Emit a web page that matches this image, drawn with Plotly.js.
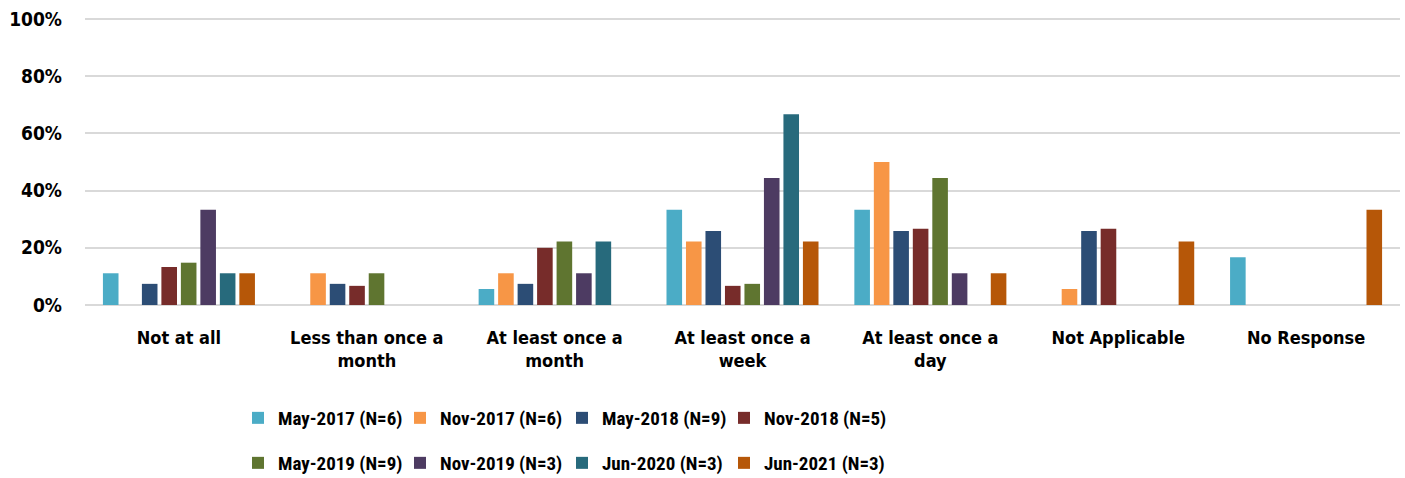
<!DOCTYPE html>
<html>
<head>
<meta charset="utf-8">
<script src="https://cdn.plot.ly/plotly-3.0.1.min.js"></script>
<style>html,body{margin:0;padding:0;background:#fff;}#chart{width:1405px;height:478px;}</style>
</head>
<body>
<div id="chart"></div>
<script>
const categories = ["Not at all", "Less than once a<br>month", "At least once a<br>month", "At least once a<br>week", "At least once a<br>day", "Not Applicable", "No Response"];
const seriesNames = ["May-2017 (N=6)", "Nov-2017 (N=6)", "May-2018 (N=9)", "Nov-2018 (N=5)", "May-2019 (N=9)", "Nov-2019 (N=3)", "Jun-2020 (N=3)", "Jun-2021 (N=3)"];
const may2017 = [11.1, 0, 5.6, 33.3, 33.3, 0, 16.7];
const nov2017 = [0, 11.1, 11.1, 22.2, 50.0, 5.6, 0];
const may2018 = [7.4, 7.4, 7.4, 25.9, 25.9, 25.9, 0];
const nov2018 = [13.3, 6.7, 20.0, 6.7, 26.7, 26.7, 0];
const may2019 = [14.8, 11.1, 22.2, 7.4, 44.4, 0, 0];
const nov2019 = [33.3, 0, 11.1, 44.4, 11.1, 0, 0];
const jun2020 = [11.1, 0, 22.2, 66.7, 0, 0, 0];
const jun2021 = [11.1, 0, 0, 22.2, 11.1, 22.2, 33.3];
const seriesValues = [may2017, nov2017, may2018, nov2018, may2019, nov2019, jun2020, jun2021];
const colors = ["#4BACC6", "#F79646", "#2C4D75", "#772C2A", "#5F7530", "#4D3B62", "#276A7C", "#B65708"];

const FONT = "'DejaVu Sans Condensed', sans-serif";
const LEGEND_FONT = "'Roboto Condensed', 'Open Sans Condensed', 'Noto Sans Condensed', 'Liberation Sans Narrow', 'Arial Narrow', 'Roboto'";

const traces = seriesNames.map((name, i) => ({
  type: "bar",
  name: name,
  x: categories,
  y: seriesValues[i].map(v => v / 100),
  marker: {color: colors[i], line: {width: 0}},
  legend: i < 4 ? "legend" : "legend2",
  hoverinfo: "skip"
}));

const legendCommon = {
  orientation: "h",
  xref: "container", yref: "container",
  xanchor: "center", yanchor: "middle",
  x: 0.40,
  entrywidth: 117, entrywidthmode: "pixels",
  itemwidth: 30,
  font: {family: LEGEND_FONT, size: 19, color: "#000", weight: 700},
  bgcolor: "rgba(0,0,0,0)",
  traceorder: "normal"
};

const layout = {
  width: 1405, height: 478,
  margin: {l: 85, r: 5, t: 18, b: 173},
  paper_bgcolor: "#fff", plot_bgcolor: "#fff",
  barmode: "group",
  bargap: 0.17,
  bargroupgap: 0.2,
  font: {family: FONT, color: "#000"},
  xaxis: {
    type: "category",
    showgrid: false,
    showline: false,
    ticks: "",
    tickfont: {family: FONT, size: 18, color: "#000", weight: 700},
    ticklabelstandoff: 20
  },
  yaxis: {
    range: [0, 1.004],
    tickvals: [0, 0.2, 0.4, 0.6, 0.8, 1.0],
    tickformat: ".0%",
    showgrid: true, gridcolor: "#d9d9d9", gridwidth: 2,
    zeroline: true, zerolinecolor: "#d9d9d9", zerolinewidth: 2,
    showline: false, ticks: "",
    tickfont: {family: FONT, size: 19, color: "#000", weight: 700},
    ticklabelstandoff: 22
  },
  legend: Object.assign({}, legendCommon, {y: 1 - 418 / 478}),
  legend2: Object.assign({}, legendCommon, {y: 1 - 463 / 478}),
  showlegend: true
};

Plotly.newPlot("chart", traces, layout, {displayModeBar: false, staticPlot: true});
</script>
</body>
</html>
